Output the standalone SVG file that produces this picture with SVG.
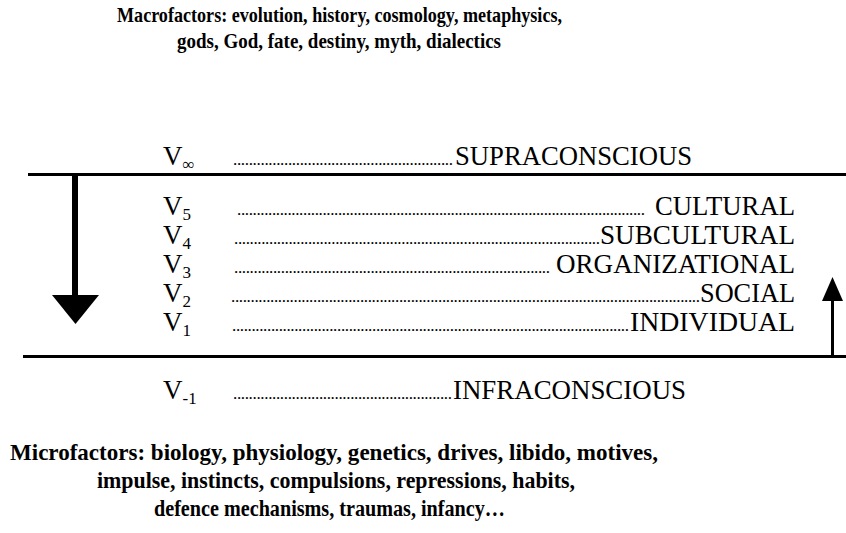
<svg xmlns="http://www.w3.org/2000/svg" width="846" height="533" viewBox="0 0 846 533">
<style>
.t{font-family:"Liberation Serif","Times New Roman",serif;fill:#000}
.title{font-size:22px;font-weight:bold}
.micro{font-size:24px;font-weight:bold}
.lbl{font-size:27px}
.v{font-size:27px}
.sub{font-size:17px}
.dots{font-size:17px}
.rule{stroke:#000;stroke-width:3;fill:none}
</style>
<rect width="846" height="533" fill="#fff"/>
<g id="macrofactors">
<text class="t title" x="117" y="22" textLength="445" lengthAdjust="spacingAndGlyphs">Macrofactors: evolution, history, cosmology, metaphysics,</text>
<text class="t title" x="177" y="48" textLength="324" lengthAdjust="spacingAndGlyphs">gods, God, fate, destiny, myth, dialectics</text>
</g>
<g id="supraconscious">
<text class="t v" x="163" y="165">V<tspan class="sub" dy="5">∞</tspan></text>
<text class="t dots" x="233" y="165" textLength="220" lengthAdjust="spacing">........................................................</text>
<text class="t lbl" x="455" y="165" textLength="237" lengthAdjust="spacingAndGlyphs">SUPRACONSCIOUS</text>
</g>
<g id="rules">
<line class="rule" x1="28" y1="174.5" x2="846" y2="174.5"/>
<line class="rule" x1="23" y1="356.5" x2="846" y2="356.5"/>
</g>
<g id="cultural">
<text class="t v" x="163" y="215">V<tspan class="sub" dy="5">5</tspan></text>
<text class="t dots" x="237" y="215" textLength="408" lengthAdjust="spacing">.........................................................................................................</text>
<text class="t lbl" x="655" y="215" textLength="140" lengthAdjust="spacingAndGlyphs">CULTURAL</text>
</g>
<g id="subcultural">
<text class="t v" x="163" y="244">V<tspan class="sub" dy="5">4</tspan></text>
<text class="t dots" x="234" y="244" textLength="366" lengthAdjust="spacing">..............................................................................................</text>
<text class="t lbl" x="600" y="244" textLength="195" lengthAdjust="spacingAndGlyphs">SUBCULTURAL</text>
</g>
<g id="organizational">
<text class="t v" x="163" y="273">V<tspan class="sub" dy="5">3</tspan></text>
<text class="t dots" x="234" y="273" textLength="316" lengthAdjust="spacing">.................................................................................</text>
<text class="t lbl" x="556" y="273" textLength="239" lengthAdjust="spacingAndGlyphs">ORGANIZATIONAL</text>
</g>
<g id="social">
<text class="t v" x="163" y="302">V<tspan class="sub" dy="5">2</tspan></text>
<text class="t dots" x="231" y="302" textLength="469" lengthAdjust="spacing">........................................................................................................................</text>
<text class="t lbl" x="700" y="302" textLength="95" lengthAdjust="spacingAndGlyphs">SOCIAL</text>
</g>
<g id="individual">
<text class="t v" x="163" y="331">V<tspan class="sub" dy="5">1</tspan></text>
<text class="t dots" x="232" y="331" textLength="397" lengthAdjust="spacing">......................................................................................................</text>
<text class="t lbl" x="630" y="331" textLength="165" lengthAdjust="spacingAndGlyphs">INDIVIDUAL</text>
</g>
<g id="infraconscious">
<text class="t v" x="163" y="399">V<tspan class="sub" dy="5">-1</tspan></text>
<text class="t dots" x="233" y="399" textLength="219" lengthAdjust="spacing">........................................................</text>
<text class="t lbl" x="453" y="399" textLength="233" lengthAdjust="spacingAndGlyphs">INFRACONSCIOUS</text>
</g>
<g id="microfactors">
<text class="t micro" x="10" y="460" textLength="648" lengthAdjust="spacingAndGlyphs">Microfactors: biology, physiology, genetics, drives, libido, motives,</text>
<text class="t micro" x="97" y="488" textLength="478" lengthAdjust="spacingAndGlyphs">impulse, instincts, compulsions, repressions, habits,</text>
<text class="t micro" x="154" y="516" textLength="351" lengthAdjust="spacingAndGlyphs">defence mechanisms, traumas, infancy…</text>
</g>
<g id="connectors">
<g id="down-arrow">
<rect x="72" y="174" width="6" height="123" fill="#000"/>
<polygon points="52,295 99,295 75.5,324" fill="#000"/>
</g>
<g id="up-arrow">
<line x1="832.5" y1="299" x2="832.5" y2="356" stroke="#000" stroke-width="3"/>
<polygon points="822,301 843,301 832.5,277" fill="#000"/>
</g>
</g>
</svg>
